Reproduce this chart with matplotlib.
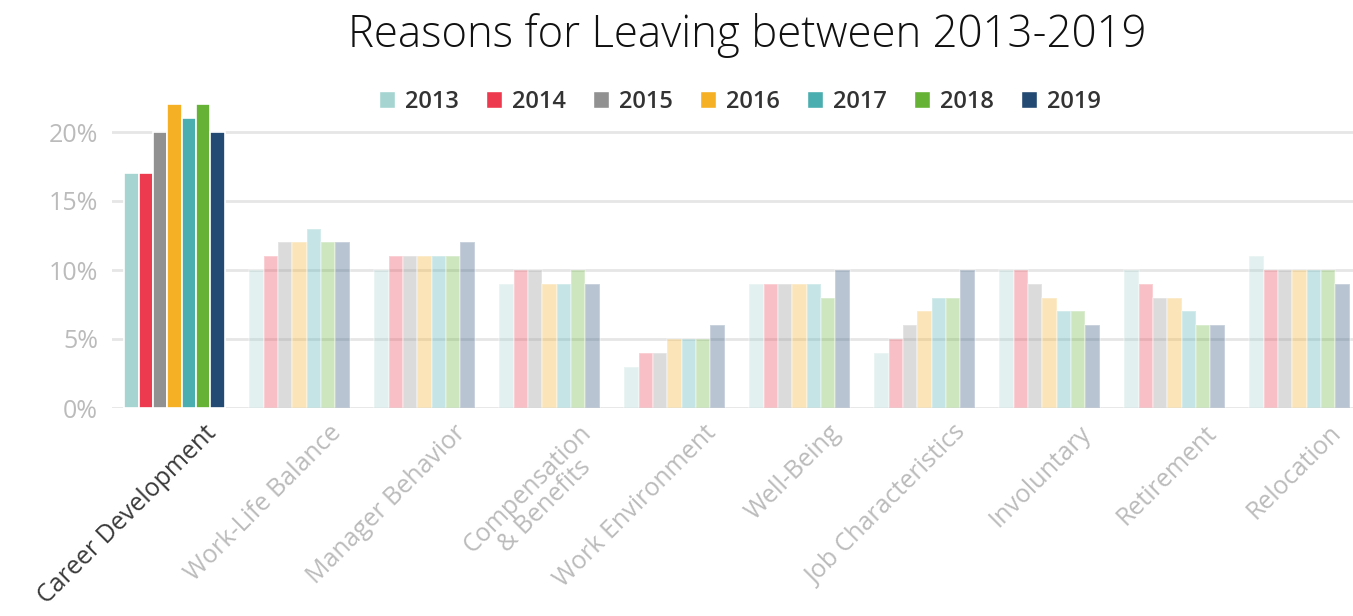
import numpy as np
import matplotlib.pyplot as plt
from matplotlib.patches import Patch

plt.rcParams['font.family'] = ['Open Sans', 'DejaVu Sans']

# data
categories = ["Career Development", "Work-Life Balance", "Manager Behavior",
              "Compensation\n& Benefits", "Work Environment", "Well-Being",
              "Job Characteristics", "Involuntary", "Retirement", "Relocation"]
years = ["2013", "2014", "2015", "2016", "2017", "2018", "2019"]
v2013 = [17, 10, 10, 9, 3, 9, 4, 10, 10, 11]
v2014 = [17, 11, 11, 10, 4, 9, 5, 10, 9, 10]
v2015 = [20, 12, 11, 10, 4, 9, 6, 9, 8, 10]
v2016 = [22, 12, 11, 9, 5, 9, 7, 8, 8, 10]
v2017 = [21, 13, 11, 9, 5, 9, 8, 7, 7, 10]
v2018 = [22, 12, 11, 10, 5, 8, 8, 7, 6, 10]
v2019 = [20, 12, 12, 9, 6, 10, 10, 6, 6, 9]
series = [v2013, v2014, v2015, v2016, v2017, v2018, v2019]
colors = ["#a6d5d1", "#ee3a4f", "#919191", "#f5b025", "#4aadb0", "#65b236", "#234a73"]
highlight = 0  # index of highlighted category

fig = plt.figure(figsize=(13.53, 6.16), dpi=100)
ax = fig.add_axes([112/1353, 208/616, 1 - 112/1353, 310.5/616])

x = np.arange(len(categories))
w = 0.115
for i, (vals, c) in enumerate(zip(series, colors)):
    pos = x + (i - 3) * w
    for k in range(len(categories)):
        a = 1.0 if k == highlight else 0.32
        ax.bar(pos[k], vals[k], width=w, color=c, alpha=a,
               edgecolor='white', linewidth=1.2, zorder=3)

ax.set_xlim(-0.5, (1353 - 112) / 125 - 0.5)
ax.set_ylim(0, 22.5)
ax.set_yticks([0, 5, 10, 15, 20])
ax.set_yticklabels([f"{t}%" for t in [0, 5, 10, 15, 20]])
ax.grid(axis='y', color='#e6e6e6', linewidth=2, zorder=0)
ax.tick_params(axis='y', length=0, pad=10, labelsize=18, labelcolor='#bbbbbb')
for s in ax.spines.values():
    s.set_visible(False)

ax.set_xticks(x)
ax.set_xticklabels([])
ax.tick_params(axis='x', length=0)
for k, lab in enumerate(categories):
    col = '#3a3a3a' if k == highlight else '#bbbbbb'
    ax.annotate(lab, xy=(k, 0), xycoords='data', xytext=(21, -9),
                textcoords='offset points', rotation=45, rotation_mode='anchor',
                ha='right', va='top', fontsize=18, color=col,
                multialignment='center', linespacing=0.95)

handles = [Patch(facecolor=c, edgecolor='white') for c in colors]
fig.legend(handles, years, loc='center', bbox_to_anchor=(0.547, 1 - 102/616),
           ncol=7, frameon=False, handlelength=0.65, handleheight=0.75,
           handletextpad=0.45, columnspacing=1.15,
           prop={'size': 17, 'weight': 600}, labelcolor='#333333')

fig.text(0.552, 1 - 35/616, "Reasons for Leaving between 2013-2019",
         ha='center', va='center', fontsize=31.5, color='#111111',
         fontweight='light')

plt.savefig('out.png', dpi=100)
